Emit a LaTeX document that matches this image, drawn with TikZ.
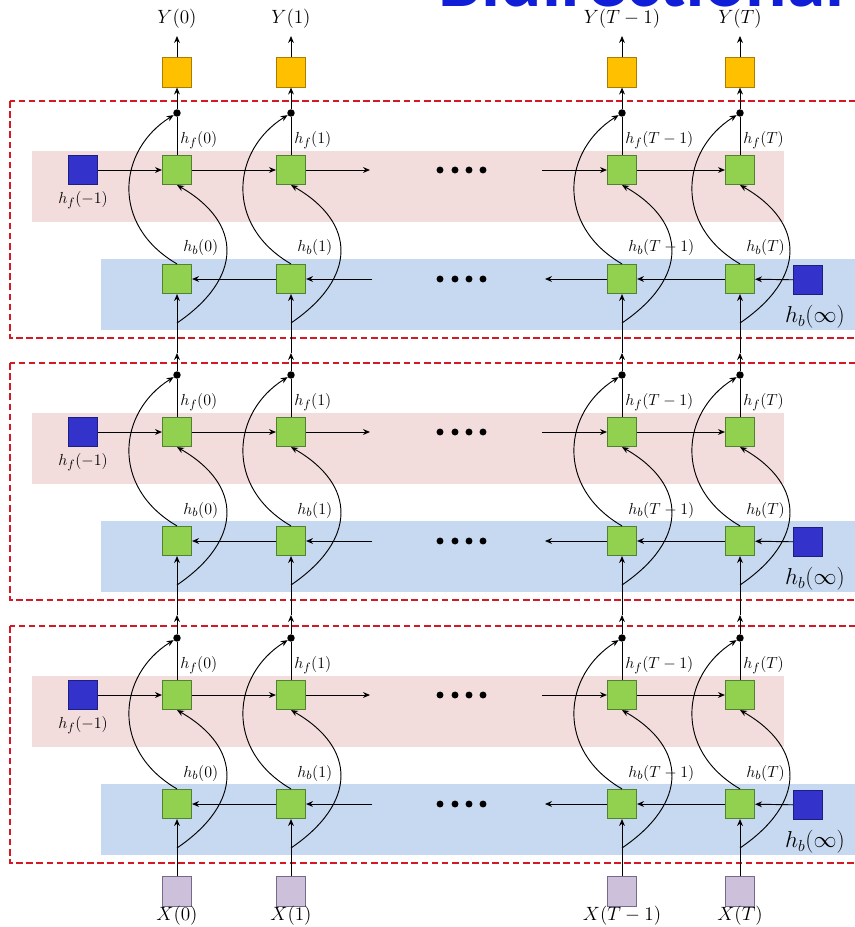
\documentclass[tikz,border=0pt]{standalone}
\usepackage{fontspec}
\newfontfamily\titlefont{Carlito}
\usetikzlibrary{arrows.meta}
\definecolor{redline}{RGB}{212,24,36}
\definecolor{pinkband}{RGB}{242,220,220}
\definecolor{blueband}{RGB}{198,217,240}
\definecolor{greenfill}{RGB}{146,208,80}
\definecolor{greenedge}{RGB}{80,130,50}
\definecolor{bluefill}{RGB}{51,51,204}
\definecolor{blueedge}{RGB}{30,30,130}
\definecolor{yellowfill}{RGB}{255,192,0}
\definecolor{yellowedge}{RGB}{170,125,0}
\definecolor{lavfill}{RGB}{204,192,218}
\definecolor{lavedge}{RGB}{120,105,140}
\definecolor{titleblue}{RGB}{16,30,215}
\tikzset{
  cell/.style={draw=greenedge, fill=greenfill, line width=0.6pt, minimum size=22pt, inner sep=0pt},
  initcell/.style={draw=blueedge, fill=bluefill, line width=0.6pt, minimum size=22pt, inner sep=0pt},
  outcell/.style={draw=yellowedge, fill=yellowfill, line width=0.6pt, minimum size=22pt, inner sep=0pt},
  incell/.style={draw=lavedge, fill=lavfill, line width=0.6pt, minimum size=22pt, inner sep=0pt},
  merge/.style={circle, fill=black, minimum size=5.6pt, inner sep=0pt},
  conn/.style={line width=0.7pt, draw=black},
  arr/.style={conn, -{Stealth[length=5.2pt,width=4.4pt]}},
  lbl/.style={font=\fontsize{12.5}{14}\selectfont, inner sep=0pt},
  iolbl/.style={font=\fontsize{15}{17}\selectfont, inner sep=0pt},
  inflbl/.style={font=\fontsize{17}{19}\selectfont, inner sep=0pt},
  blockframe/.style={draw=redline, line width=1.6pt, dash pattern=on 5pt off 2.6pt},
}
\begin{document}
\begin{tikzpicture}[x=0.75pt, y=-0.75pt]
\useasboundingbox (0,0) rectangle (854,927);
\fill[white] (0,0) rectangle (854,927);
% cropped title (only the bottom of its letters lies inside the page)
\node[anchor=base west, text=titleblue, inner sep=0pt, font=\titlefont\bfseries\fontsize{58}{60}\selectfont] (title) at (438,6.5) {Bidirectional};

% output and input boxes
\foreach \c/\x/\t in {0/177/0, 1/291/1, 2/622/T-1, 3/740/T}{
  \node[outcell] (y-\c) at (\x,72.5) {};
  \node[iolbl] (ylab-\c) at (\x,19) {$Y(\t)$};
  \coordinate (ytop-\c) at (\x,36);
  \draw[arr] (y-\c) -- (ytop-\c);
  \node[incell] (x-\c) at (\x,891.5) {};
  \node[iolbl] (xlab-\c) at (\x,916) {$X(\t)$};
}

\foreach \b/\o in {1/0, 2/262, 3/525}{
  \fill[pinkband] (32,151+\o) rectangle (784,222+\o);
  \fill[blueband] (101,259+\o) rectangle (870,330+\o);
  \draw[blockframe] (10,101+\o) rectangle (875,338+\o);
  % initial states
  \node[initcell] (hfm-\b) at (83,170+\o) {};
  \node[lbl] (hfmlab-\b) at (83,200+\o) {$h_f(-1)$};
  \node[initcell] (hinf-\b) at (808,280+\o) {};
  \node[inflbl] (hinflab-\b) at (815,317+\o) {$h_b(\infty)$};
  % cells
  \foreach \c/\x/\t in {0/177/0, 1/291/1, 2/622/T-1, 3/740/T}{
    \node[cell] (f-\b-\c) at (\x,170+\o) {};
    \node[cell] (g-\b-\c) at (\x,279+\o) {};
    \node[merge] (d-\b-\c) at (\x,113+\o) {};
    \coordinate (in-\b-\c) at (\x,323+\o);
    \coordinate (gap-\b-\c) at (\x,353+\o);
    \node[lbl, anchor=west] (hflab-\b-\c) at (\x+3,140+\o) {$h_f(\t)$};
    \node[lbl, anchor=west] (hblab-\b-\c) at (\x+6,248+\o) {$h_b(\t)$};
    \draw[conn] (f-\b-\c) -- (d-\b-\c);
    \draw[arr] (in-\b-\c) .. controls +(66,-45) and +(66,38) .. (f-\b-\c.south);
    \draw[arr] (g-\b-\c.north) .. controls +(-67,-39) and +(-59,37) .. (d-\b-\c);
  }
  % ellipsis dots
  \foreach \xx in {440,455,469,483}{
    \fill (\xx,170+\o) circle (2.6pt);
    \fill (\xx,279+\o) circle (2.6pt);
  }
  \coordinate (fa-\b) at (370,170+\o);
  \coordinate (fb-\b) at (542,170+\o);
  \coordinate (ba-\b) at (545,279+\o);
  \coordinate (bb-\b) at (372,279+\o);
  % forward chain
  \draw[arr] (hfm-\b) -- (f-\b-0);
  \draw[arr] (f-\b-0) -- (f-\b-1);
  \draw[arr] (f-\b-1) -- (fa-\b);
  \draw[arr] (fb-\b) -- (f-\b-2);
  \draw[arr] (f-\b-2) -- (f-\b-3);
  % backward chain
  \draw[arr] (hinf-\b) -- (g-\b-3);
  \draw[arr] (g-\b-3) -- (g-\b-2);
  \draw[arr] (g-\b-2) -- (ba-\b);
  \draw[arr] (bb-\b) -- (g-\b-1);
  \draw[arr] (g-\b-1) -- (g-\b-0);
}

% vertical links between layers
\foreach \c in {0,1,2,3}{
  \draw[arr] (d-1-\c) -- (y-\c);
  \draw[arr] (d-2-\c) -- (gap-1-\c);
  \draw[arr] (d-3-\c) -- (gap-2-\c);
  \draw[arr] (gap-1-\c) -- (g-1-\c);
  \draw[arr] (gap-2-\c) -- (g-2-\c);
  \draw[arr] (x-\c) -- (g-3-\c);
}
\end{tikzpicture}
\end{document}
